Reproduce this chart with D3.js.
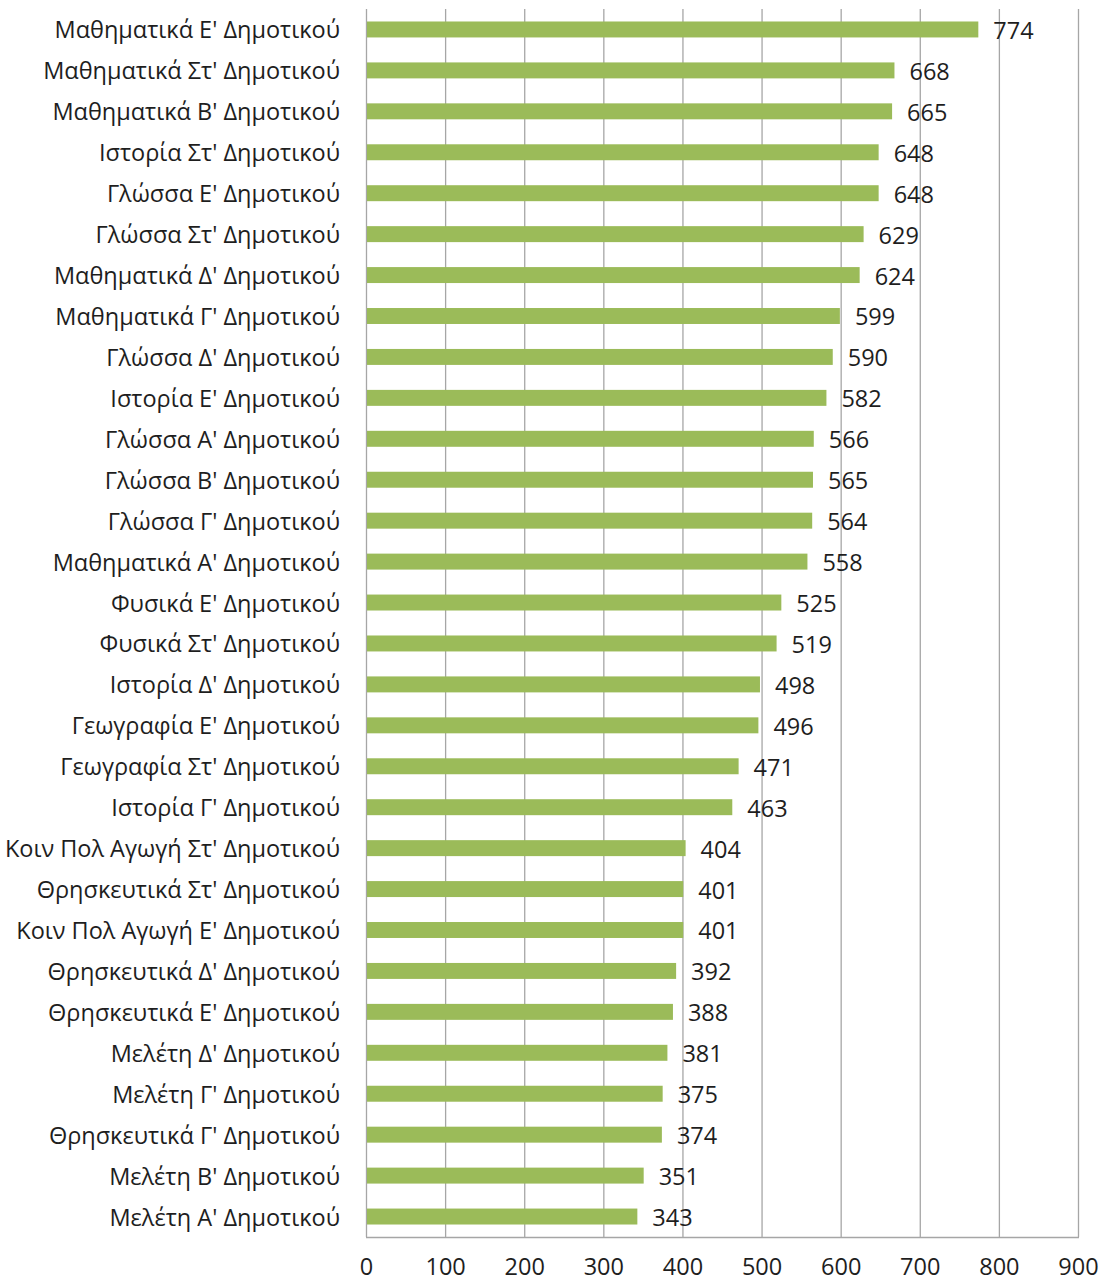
<!DOCTYPE html>
<html>
<head>
<meta charset="utf-8">
<script src="https://cdn.jsdelivr.net/npm/d3@7"></script>
<style>
  body { margin: 0; background: #fff; }
  text { font-family: "Open Sans", sans-serif; fill: #1e1e1e; }
</style>
</head>
<body>
<svg></svg>
<script>
const w = 1105;
const h = 1284;

const subjects = [
  "Μαθηματικά Ε' Δημοτικού", "Μαθηματικά Στ' Δημοτικού", "Μαθηματικά Β' Δημοτικού",
  "Ιστορία Στ' Δημοτικού", "Γλώσσα Ε' Δημοτικού", "Γλώσσα Στ' Δημοτικού",
  "Μαθηματικά Δ' Δημοτικού", "Μαθηματικά Γ' Δημοτικού", "Γλώσσα Δ' Δημοτικού",
  "Ιστορία Ε' Δημοτικού", "Γλώσσα Α' Δημοτικού", "Γλώσσα Β' Δημοτικού",
  "Γλώσσα Γ' Δημοτικού", "Μαθηματικά Α' Δημοτικού", "Φυσικά Ε' Δημοτικού",
  "Φυσικά Στ' Δημοτικού", "Ιστορία Δ' Δημοτικού", "Γεωγραφία Ε' Δημοτικού",
  "Γεωγραφία Στ' Δημοτικού", "Ιστορία Γ' Δημοτικού", "Κοιν Πολ Αγωγή Στ' Δημοτικού",
  "Θρησκευτικά Στ' Δημοτικού", "Κοιν Πολ Αγωγή Ε' Δημοτικού", "Θρησκευτικά Δ' Δημοτικού",
  "Θρησκευτικά Ε' Δημοτικού", "Μελέτη Δ' Δημοτικού", "Μελέτη Γ' Δημοτικού",
  "Θρησκευτικά Γ' Δημοτικού", "Μελέτη Β' Δημοτικού", "Μελέτη Α' Δημοτικού"
];
const counts = [774, 668, 665, 648, 648, 629, 624, 599, 590, 582, 566, 565, 564, 558, 525,
                519, 498, 496, 471, 463, 404, 401, 401, 392, 388, 381, 375, 374, 351, 343];
const xTicks = [0, 100, 200, 300, 400, 500, 600, 700, 800, 900];

const plotLeft = 366, plotRight = 1078, plotTop = 9, plotBottom = 1237;

let xScale = d3.scaleLinear().domain([0, 900]).range([plotLeft, plotRight]);
let yScale = d3.scaleBand().domain(subjects).range([plotTop, plotBottom]).paddingInner(0.61).paddingOuter(0.305);

let svg = d3.select("svg").attr("width", w).attr("height", h);

// gridlines
svg.append("g")
   .selectAll("line")
   .data(xTicks)
   .enter()
   .append("line")
   .attr("x1", d => xScale(d) + 0.5)
   .attr("x2", d => xScale(d) + 0.5)
   .attr("y1", plotTop)
   .attr("y2", plotBottom)
   .attr("stroke", "#a6a6a6")
   .attr("stroke-width", 1.3);

svg.append("line")
   .attr("x1", plotLeft).attr("x2", plotRight + 1)
   .attr("y1", plotBottom + 0.5).attr("y2", plotBottom + 0.5)
   .attr("stroke", "#a6a6a6").attr("stroke-width", 1.3);

// bars
svg.selectAll("rect")
   .data(subjects)
   .enter()
   .append("rect")
   .attr("x", xScale(0) + 1)
   .attr("y", d => yScale(d))
   .attr("width", (d, i) => xScale(counts[i]) - xScale(0) - 1)
   .attr("height", yScale.bandwidth())
   .attr("fill", "#9bbb59");

// value labels
svg.append("g")
   .selectAll("text")
   .data(subjects)
   .enter()
   .append("text")
   .attr("x", (d, i) => xScale(counts[i]) + 15)
   .attr("y", d => yScale(d) + yScale.bandwidth() / 2 + 1)
   .attr("dy", "0.36em")
   .attr("font-size", 23.5)
   .text((d, i) => counts[i]);

// category axis
let yAxis = d3.axisLeft(yScale).tickSize(0).tickPadding(26);
svg.append("g")
   .attr("transform", `translate(${plotLeft}, 1.5)`)
   .call(yAxis)
   .call(g => g.select(".domain").remove())
   .selectAll("text")
   .attr("font-size", 23.5)
   .attr("font-family", "Open Sans, sans-serif")
   .attr("fill", "#1e1e1e");

// value axis
let xAxis = d3.axisBottom(xScale).tickValues(xTicks).tickSize(0).tickPadding(21);
svg.append("g")
   .attr("transform", `translate(0, ${plotBottom})`)
   .call(xAxis)
   .call(g => g.select(".domain").remove())
   .selectAll("text")
   .attr("font-size", 23.5)
   .attr("font-family", "Open Sans, sans-serif")
   .attr("fill", "#1e1e1e");
</script>
</body>
</html>
